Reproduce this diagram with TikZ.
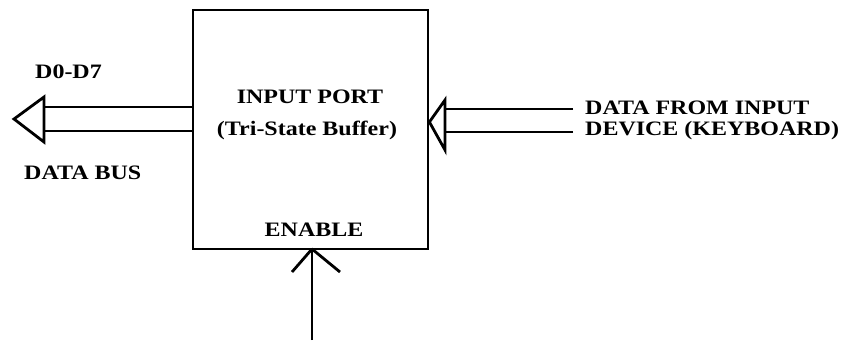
\documentclass[tikz,border=0pt]{standalone}
\usepackage{fontspec}
\setmainfont{Liberation Serif}[FakeStretch=1.17]
\begin{document}
\begin{tikzpicture}[x=1pt,y=-1pt,
  wire/.style={line width=2.8pt,line join=miter},
  lbl/.style={font=\fontsize{20.5}{23}\selectfont\bfseries,inner sep=0pt,anchor=west},
  clbl/.style={font=\fontsize{20.5}{23}\selectfont\bfseries,inner sep=0pt}]
\useasboundingbox (0,0) rectangle (842,341);
\node[draw,line width=2.8pt,minimum width=235pt,minimum height=239pt,inner sep=0pt] (port) at (310.5,129.5) {};
\node[clbl] (t1) at (310,97) {INPUT PORT};
\node[clbl] (t2) at (307,130) {(Tri-State Buffer)};
\node[clbl] (t3) at (314,230) {ENABLE};
\node[lbl] (d07) at (35,72) {D0-D7};
\node[lbl] (dbus) at (24,173) {DATA BUS};
\node[lbl] (din1) at (585,108) {DATA FROM INPUT};
\node[lbl] (din2) at (585,131) {DEVICE (KEYBOARD)};
% left bus arrow
\coordinate (la) at (port.west |- 0,107);
\coordinate (lb) at (port.west |- 0,131);
\coordinate (lh1) at (44,97);
\coordinate (lh2) at (44,142);
\coordinate (ltip) at (14,119);
\draw[wire] (la) -- (lh1 |- la);
\draw[wire] (lb) -- (lh1 |- lb);
\draw[wire] (lh1) -- (ltip) -- (lh2) -- cycle;
% right input arrow
\coordinate (ra) at (573,109);
\coordinate (rb) at (573,132);
\coordinate (rh1) at (445,100);
\coordinate (rh2) at (445,150);
\coordinate (rtip) at (port.east |- 0,122);
\draw[wire] (ra) -- (rh1 |- ra);
\draw[wire] (rb) -- (rh1 |- rb);
\draw[wire] (rh1) -- (rtip) -- (rh2) -- cycle;
% enable arrow
\coordinate (etip) at (312,249);
\coordinate (efoot) at (312,340);
\draw[wire] (efoot) -- (etip);
\draw[wire,line join=round] (292,272) -- (etip) -- (340,272);
\end{tikzpicture}
\end{document}
